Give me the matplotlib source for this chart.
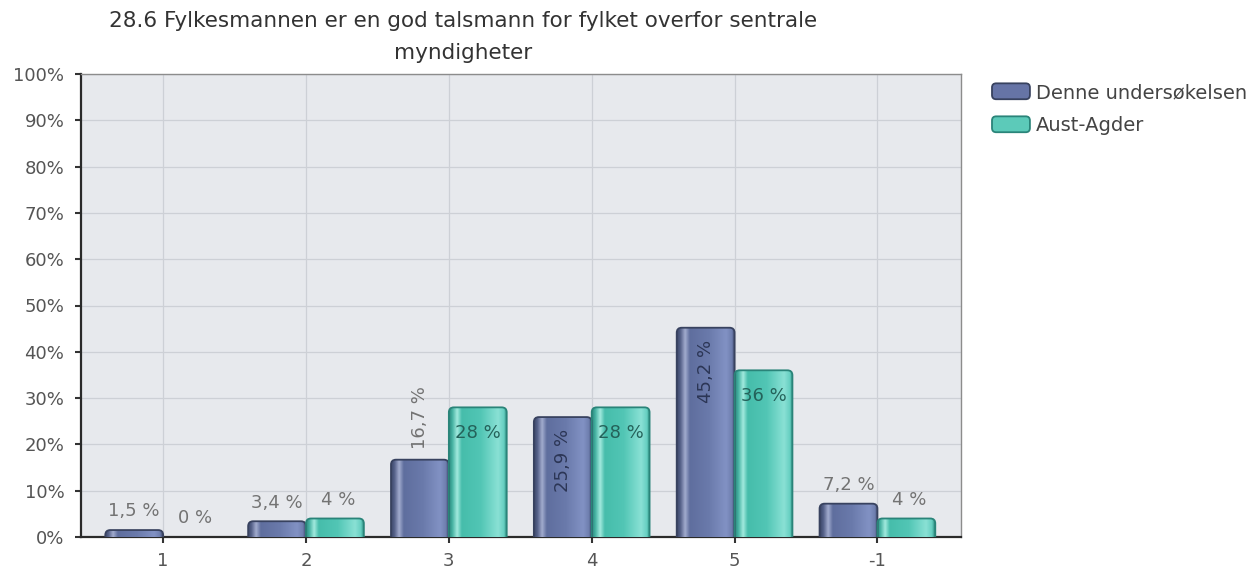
import numpy as np
import matplotlib
matplotlib.use("Agg")
import matplotlib.pyplot as plt
from matplotlib.patches import FancyBboxPatch, Patch
from matplotlib.colors import LinearSegmentedColormap
from matplotlib.legend_handler import HandlerPatch

plt.rcParams['font.family'] = ['DejaVu Sans']

# ---- data ----
categories = ["1", "2", "3", "4", "5", "-1"]
series_names = ["Denne undersøkelsen", "Aust-Agder"]
denne = [1.5, 3.4, 16.7, 25.9, 45.2, 7.2]
aust = [0, 4, 28, 28, 36, 4]
denne_labels = ["1,5 %", "3,4 %", "16,7 %", "25,9 %", "45,2 %", "7,2 %"]
aust_labels = ["0 %", "4 %", "28 %", "28 %", "36 %", "4 %"]
yticks = [0, 10, 20, 30, 40, 50, 60, 70, 80, 90, 100]
title_line1 = "28.6 Fylkesmannen er en god talsmann for fylket overfor sentrale"
title_line2 = "myndigheter"

W, H = 1254, 573
fig = plt.figure(figsize=(W / 100, H / 100), dpi=100)
fig.patch.set_facecolor("white")
ax = fig.add_axes([81 / W, 1 - 537 / H, (961 - 81) / W, (537 - 74) / H])
ax.set_facecolor("#e7e9ed")

x = np.arange(len(categories))
bw = 0.405
bars1 = ax.bar(x - bw / 2, denne, bw, facecolor="none", edgecolor="none", zorder=3)
bars2 = ax.bar(x + bw / 2, aust, bw, facecolor="none", edgecolor="none", zorder=3)

xlim = (-0.575, 5.585)
ylim = (0, 100)
ax.set_xlim(*xlim)
ax.set_ylim(*ylim)

# pixel scales
px_x = (xlim[1] - xlim[0]) / (961 - 81)
px_y = (ylim[1] - ylim[0]) / (537 - 74)

blue_cmap = LinearSegmentedColormap.from_list("b", [
    (0.0, "#3c4668"), (0.06, "#56628a"), (0.14, "#a2acce"), (0.22, "#5f6e9e"),
    (0.55, "#6a7aab"), (0.85, "#8292c4"), (0.95, "#6e7eae"), (1.0, "#3c4668")])
teal_cmap = LinearSegmentedColormap.from_list("t", [
    (0.0, "#2a8a7e"), (0.06, "#48b4a4"), (0.14, "#a2eade"), (0.22, "#46bdab"),
    (0.55, "#52c6b5"), (0.85, "#8ae1d5"), (0.95, "#66cfc1"), (1.0, "#2a8a7e")])

grad = np.linspace(0, 1, 256).reshape(1, -1)
r_px = 5
rs = r_px * px_x
asp = (r_px * px_y) / rs


def draw_gradient_bars(bars, cmap, edge):
    for rect in bars:
        bx, bwid, bh = rect.get_x(), rect.get_width(), rect.get_height()
        if bh <= 0:
            continue
        patch = FancyBboxPatch((bx, -3), bwid, bh + 3,
                               boxstyle=f"round,pad=0,rounding_size={rs}",
                               mutation_aspect=asp, facecolor="none",
                               edgecolor=edge, lw=1.3, zorder=4,
                               transform=ax.transData)
        ax.add_patch(patch)
        im = ax.imshow(grad, cmap=cmap, extent=[bx, bx + bwid, 0, bh],
                       aspect="auto", zorder=3, interpolation="bilinear")
        im.set_clip_path(patch)


draw_gradient_bars(bars1, blue_cmap, "#38425f")
draw_gradient_bars(bars2, teal_cmap, "#2a8479")
ax.set_xlim(*xlim)
ax.set_ylim(*ylim)

# ---- value labels ----
out_col = "#737373"
in_blue = "#2c3656"
in_teal = "#24625a"
fs_lab = 13
for rect, val, lab in zip(bars1, denne, denne_labels):
    cx = rect.get_x() + rect.get_width() / 2
    if val < 10:
        ax.annotate(lab, (cx, val), xytext=(0, 13.5), textcoords="offset points",
                    ha="center", va="center", fontsize=fs_lab, color=out_col, zorder=6)
    elif val < 20:
        ax.annotate(lab, (cx, val), xytext=(0, 8), textcoords="offset points",
                    ha="center", va="bottom", rotation=90, fontsize=fs_lab,
                    color=out_col, zorder=6)
    else:
        ax.annotate(lab, (cx, val), xytext=(0, -8.5), textcoords="offset points",
                    ha="center", va="top", rotation=90, fontsize=fs_lab,
                    color=in_blue, zorder=6)

for rect, val, lab in zip(bars2, aust, aust_labels):
    cx = rect.get_x() + rect.get_width() / 2
    if val < 10:
        ax.annotate(lab, (cx, val), xytext=(2, 13.5), textcoords="offset points",
                    ha="center", va="center", fontsize=fs_lab, color=out_col, zorder=6)
    else:
        ax.annotate(lab, (cx, val), xytext=(0, -18.5), textcoords="offset points",
                    ha="center", va="center", fontsize=fs_lab, color=in_teal, zorder=6)

# ---- axes styling ----
ax.set_xticks(x)
ax.set_xticklabels(categories)
ax.set_yticks(yticks)
ax.set_yticklabels([f"{v}%" for v in yticks])
ax.set_axisbelow(True)
ax.grid(True, color="#cdd0d6", lw=0.9)
ax.tick_params(axis="y", direction="out", length=4.5, width=1.5, color="#333333",
               labelsize=13, labelcolor="#555555", pad=7.5)
ax.tick_params(axis="x", direction="out", length=4.5, width=1.5, color="#333333",
               labelsize=13, labelcolor="#555555", pad=6)
for s in ["left", "bottom"]:
    ax.spines[s].set_color("#2a2a2a")
    ax.spines[s].set_linewidth(1.6)
for s in ["top", "right"]:
    ax.spines[s].set_color("#8c8c8c")
    ax.spines[s].set_linewidth(1.0)

# ---- title ----
fig.text(463 / W, 1 - 21 / H, title_line1, ha="center", va="center",
         fontsize=15.5, color="#333333")
fig.text(463 / W, 1 - 53 / H, title_line2, ha="center", va="center",
         fontsize=15.5, color="#333333")


# ---- legend ----
class RoundHandler(HandlerPatch):
    def create_artists(self, legend, orig_handle, xdescent, ydescent, width,
                       height, fontsize, trans):
        p = FancyBboxPatch((-xdescent, -ydescent), width, height,
                           boxstyle="round,pad=0,rounding_size=3",
                           facecolor=orig_handle.get_facecolor(),
                           edgecolor=orig_handle.get_edgecolor(), lw=1.3,
                           transform=trans)
        return [p]


h1 = Patch(facecolor="#6674a6", edgecolor="#38425f")
h2 = Patch(facecolor="#5ccab9", edgecolor="#2a8479")
leg = fig.legend([h1, h2], series_names, loc="upper left",
                 bbox_to_anchor=(992 / W, 1 - 83 / H), frameon=False,
                 borderpad=0, borderaxespad=0,
                 fontsize=14, handlelength=1.95, handleheight=0.88,
                 handletextpad=0.3, labelspacing=0.72,
                 handler_map={Patch: RoundHandler()})
for t in leg.get_texts():
    t.set_color("#444444")

fig.savefig("out.png", dpi=100, facecolor="white")
